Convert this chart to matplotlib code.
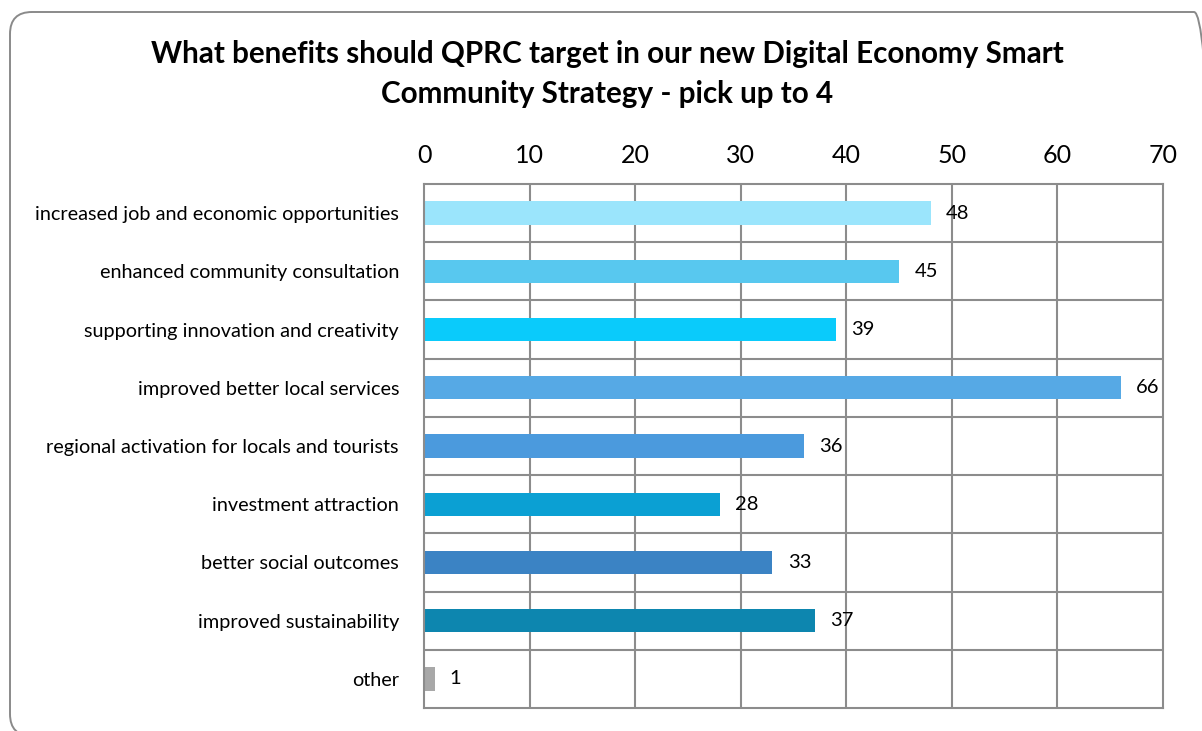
import matplotlib.pyplot as plt
from matplotlib.patches import FancyBboxPatch

plt.rcParams['font.family'] = ['Lato', 'DejaVu Sans']

# Survey answers, top to bottom
categories = [
    "increased job and economic opportunities",
    "enhanced community consultation",
    "supporting innovation and creativity",
    "improved better local services",
    "regional activation for locals and tourists",
    "investment attraction",
    "better social outcomes",
    "improved sustainability",
    "other",
]
counts = [48, 45, 39, 66, 36, 28, 33, 37, 1]
bar_colors = ['#9be5fc', '#58c8ef', '#0acbfb', '#56a9e5', '#4b9add',
              '#0ba0d3', '#3b83c4', '#0d86af', '#a8a8a8']
x_ticks = [0, 10, 20, 30, 40, 50, 60, 70]

W, H = 1202, 731
fig = plt.figure(figsize=(W / 100, H / 100), dpi=100)

# background layer in pixel units for the rounded frame
bg = fig.add_axes([0, 0, 1, 1], zorder=-1)
bg.set_xlim(0, W)
bg.set_ylim(0, H)
bg.axis('off')
frame = FancyBboxPatch((10, -5), 1206, 724,
                       boxstyle="round,pad=0,rounding_size=22",
                       fill=False, edgecolor='#8a8a8a', linewidth=1.4)
bg.add_patch(frame)

fig.text(607 / W, 1 - 74 / H,
         "What benefits should QPRC target in our new Digital Economy Smart\nCommunity Strategy - pick up to 4",
         ha='center', va='center', fontsize=21.3, fontweight='bold',
         linespacing=1.5)

ax = fig.add_axes([424 / W, 1 - 708 / H, (1163 - 424) / W, (708 - 184) / H])

ypos = list(range(len(categories)))
ax.barh(ypos, counts, height=0.4, color=bar_colors)

for y, v in zip(ypos, counts):
    ax.annotate(str(v), (v, y), xytext=(11, 0), textcoords='offset points',
                ha='left', va='center', fontsize=14.5)

ax.set_xlim(0, 70)
ax.set_ylim(len(categories) - 0.5, -0.5)
ax.set_xticks(x_ticks)
ax.set_yticks(ypos)
ax.set_yticklabels(categories, fontsize=14.3)
ax.xaxis.tick_top()
ax.tick_params(axis='x', length=0, pad=12, labelsize=18)
ax.tick_params(axis='y', length=0, pad=18)

# grid: vertical lines at each tick, horizontal lines between categories
grid_col = '#8c8c8c'
for x in x_ticks[1:-1]:
    ax.axvline(x, color=grid_col, linewidth=1.5, zorder=0)
for y in ypos[:-1]:
    ax.axhline(y + 0.5, color=grid_col, linewidth=1.5, zorder=0)
for s in ax.spines.values():
    s.set_color(grid_col)
    s.set_linewidth(1.5)

fig.savefig("out.png", dpi=100)
